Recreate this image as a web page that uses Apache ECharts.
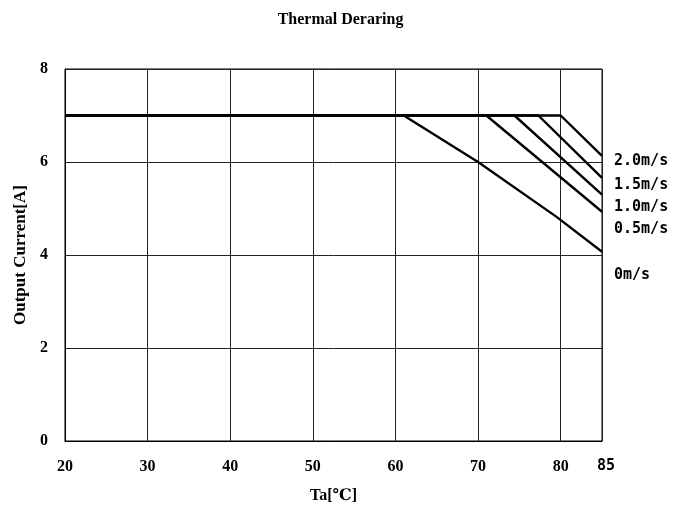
<!DOCTYPE html>
<html>
<head>
<meta charset="utf-8">
<script src="https://cdn.jsdelivr.net/npm/echarts@6/dist/echarts.min.js"></script>
<style>html,body{margin:0;padding:0;background:#fff}#c{width:681px;height:512px}</style>
</head>
<body>
<div id="c"></div>
<script>
const titleText = 'Thermal Deraring';
const xName = 'Ta[℃]';
const yName = 'Output Current[A]';
const seriesNames = ['0m/s', '0.5m/s', '1.0m/s', '1.5m/s', '2.0m/s'];
const s0 = [[20, 7], [61, 7], [70, 6], [79.5, 4.82], [85, 4.07]];
const s05 = [[20, 7], [71, 7], [85, 4.93]];
const s10 = [[20, 7], [74.4, 7], [85, 5.3]];
const s15 = [[20, 7], [77.3, 7], [85, 5.66]];
const s20 = [[20, 7], [80, 7], [85, 6.13]];
const seriesData = [s0, s05, s10, s15, s20];
const labelOffsets = [[4, 23], [4, 17], [4, 13], [4, 7], [4, 5]];

const chart = echarts.init(document.getElementById('c'), null, {renderer: 'canvas'});
const serif = '"Liberation Serif", "DejaVu Serif", serif';
const mono = '"DejaVu Sans Mono", monospace';
chart.setOption({
  animation: false,
  backgroundColor: '#fff',
  title: {
    text: titleText, left: 'center', top: 7,
    textStyle: {fontFamily: serif, fontWeight: 'bold', fontSize: 16, color: '#000'}
  },
  grid: {left: 65, right: 79, top: 69, bottom: 71, show: true, borderColor: '#000', borderWidth: 1},
  xAxis: {
    type: 'value', min: 20, max: 85, interval: 10,
    name: xName, nameLocation: 'middle', nameGap: 47,
    nameTextStyle: {fontFamily: serif, fontWeight: 'bold', fontSize: 16, color: '#000'},
    axisLine: {show: true, lineStyle: {color: '#000', width: 1}},
    axisTick: {show: false},
    splitLine: {show: true, lineStyle: {color: '#222', width: 1}},
    axisLabel: {
      margin: 18, showMaxLabel: true, color: '#000',
      fontFamily: serif, fontWeight: 'bold', fontSize: 16,
      formatter: function (v) { return v === 85 ? '{m|85}' : String(v); },
      rich: {m: {fontFamily: mono, fontWeight: 'bold', fontSize: 15, color: '#000', padding: [0, 0, 0, 8]}}
    }
  },
  yAxis: {
    type: 'value', min: 0, max: 8, interval: 2,
    name: yName, nameLocation: 'middle', nameGap: 33,
    nameTextStyle: {fontFamily: serif, fontWeight: 'bold', fontSize: 17, color: '#000'},
    axisLine: {show: true, lineStyle: {color: '#000', width: 1}},
    axisTick: {show: false},
    splitLine: {show: true, lineStyle: {color: '#222', width: 1}},
    axisLabel: {margin: 17, color: '#000', fontFamily: serif, fontWeight: 'bold', fontSize: 16}
  },
  series: seriesData.map(function (d, i) {
    return {
      type: 'line', name: seriesNames[i], data: d, symbol: 'none',
      lineStyle: {color: '#000', width: 2.4},
      z: 3,
      endLabel: {
        show: true, formatter: seriesNames[i], offset: labelOffsets[i],
        fontFamily: mono, fontSize: 15, color: '#000', fontWeight: 'bold'
      }
    };
  })
});
</script>
</body>
</html>
